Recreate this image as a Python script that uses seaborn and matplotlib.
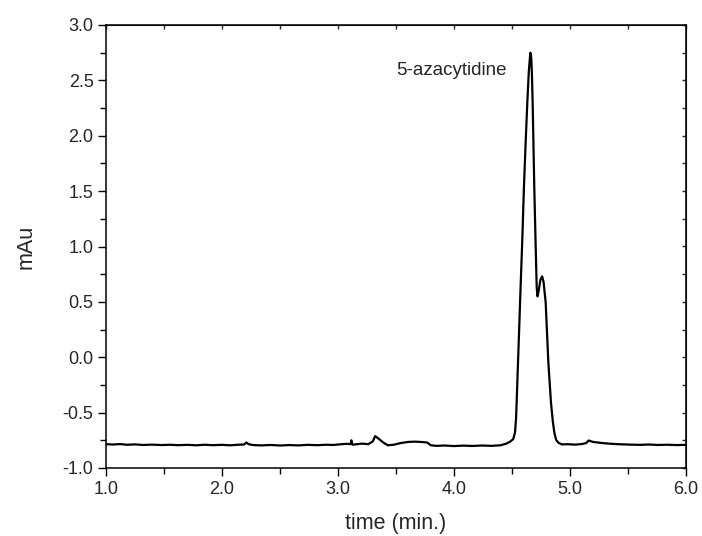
import numpy as np
import matplotlib
matplotlib.use("Agg")
import matplotlib.pyplot as plt
from matplotlib.ticker import MultipleLocator, FormatStrFormatter
import seaborn as sns

# chromatogram
time_min = [
    1.00, 1.06, 1.12, 1.18, 1.25, 1.32, 1.40, 1.48, 1.55, 1.62, 1.70, 1.78,
    1.85, 1.92, 2.00, 2.07, 2.14, 2.19, 2.21, 2.23, 2.27, 2.34, 2.42, 2.50,
    2.58, 2.66, 2.74, 2.82, 2.90, 2.96, 3.02, 3.07, 3.11, 3.115, 3.125, 3.16,
    3.21, 3.26, 3.30, 3.32, 3.35, 3.39, 3.43, 3.48, 3.54, 3.60, 3.66, 3.72,
    3.77, 3.80, 3.85, 3.92, 4.00, 4.08, 4.16, 4.24, 4.32, 4.40, 4.45, 4.48,
    4.51, 4.526, 4.535, 4.54, 4.55, 4.56, 4.574, 4.59, 4.603, 4.618, 4.632,
    4.645, 4.658, 4.666, 4.672, 4.678, 4.692, 4.703, 4.713, 4.72, 4.73,
    4.745, 4.76, 4.772, 4.79, 4.813, 4.836, 4.852, 4.865, 4.88, 4.90,
    4.93, 4.98, 5.04, 5.10, 5.14, 5.16, 5.20, 5.28, 5.36, 5.44, 5.52,
    5.60, 5.68, 5.76, 5.84, 5.92, 6.00,
]
mau = [
    -0.785, -0.788, -0.784, -0.790, -0.787, -0.792, -0.789, -0.793, -0.790,
    -0.794, -0.791, -0.795, -0.790, -0.794, -0.791, -0.795, -0.790, -0.788,
    -0.770, -0.785, -0.793, -0.796, -0.792, -0.797, -0.793, -0.796, -0.791,
    -0.794, -0.790, -0.792, -0.786, -0.782, -0.784, -0.750, -0.790, -0.785,
    -0.780, -0.785, -0.760, -0.712, -0.735, -0.770, -0.795, -0.790, -0.775,
    -0.765, -0.762, -0.765, -0.770, -0.795, -0.800, -0.797, -0.802, -0.798,
    -0.801, -0.797, -0.800, -0.795, -0.780, -0.765, -0.740, -0.68, -0.55,
    -0.41, -0.10, 0.20, 0.63, 1.10, 1.54, 1.95, 2.30, 2.58, 2.75, 2.70,
    2.55, 2.30, 1.54, 1.05, 0.63, 0.55, 0.60, 0.70, 0.73, 0.68, 0.50,
    -0.04, -0.41, -0.58, -0.68, -0.745, -0.772,
    -0.787, -0.785, -0.789, -0.784, -0.775, -0.752, -0.765, -0.775, -0.782,
    -0.786, -0.789, -0.791, -0.788, -0.792, -0.790, -0.793, -0.791,
]

sns.set_style("ticks")
plt.rcParams["font.family"] = ["Liberation Sans", "DejaVu Sans"]

fig = plt.figure(figsize=(7.02, 5.36), dpi=100)
ax = fig.add_axes([106 / 702, 1 - 468 / 536, 580 / 702, 443 / 536])

sns.lineplot(x=time_min, y=mau, color="black", linewidth=1.6,
             estimator=None, sort=False, ax=ax)

ax.set_xlim(1.0, 6.0)
ax.set_ylim(-1.0, 3.0)
ax.xaxis.set_major_locator(MultipleLocator(1.0))
ax.xaxis.set_minor_locator(MultipleLocator(0.5))
ax.yaxis.set_major_locator(MultipleLocator(0.5))
ax.yaxis.set_minor_locator(MultipleLocator(0.25))
ax.xaxis.set_major_formatter(FormatStrFormatter("%.1f"))
ax.yaxis.set_major_formatter(FormatStrFormatter("%.1f"))
ax.tick_params(which="major", direction="out", length=6, width=1,
               labelsize=13, color="black", pad=3)
ax.tick_params(which="minor", direction="out", length=4, width=1, color="black")
for s in ax.spines.values():
    s.set_linewidth(1.1)
    s.set_color("black")

# mirrored ticks on top/right, pointing inward
top = ax.secondary_xaxis("top")
top.xaxis.set_major_locator(MultipleLocator(1.0))
top.xaxis.set_minor_locator(MultipleLocator(0.5))
top.tick_params(which="both", direction="in", length=3, width=1,
                labeltop=False)
right = ax.secondary_yaxis("right")
right.yaxis.set_major_locator(MultipleLocator(0.5))
right.yaxis.set_minor_locator(MultipleLocator(0.25))
right.tick_params(which="both", direction="in", length=3, width=1,
                  labelright=False)

ax.set_xlabel("time (min.)", fontsize=15.5, labelpad=11)
ax.set_ylabel("mAu", fontsize=15.5, labelpad=19)
ax.text(3.5, 2.59, "5-azacytidine", fontsize=13.5, ha="left", va="center")

fig.savefig("out.png", dpi=100)
